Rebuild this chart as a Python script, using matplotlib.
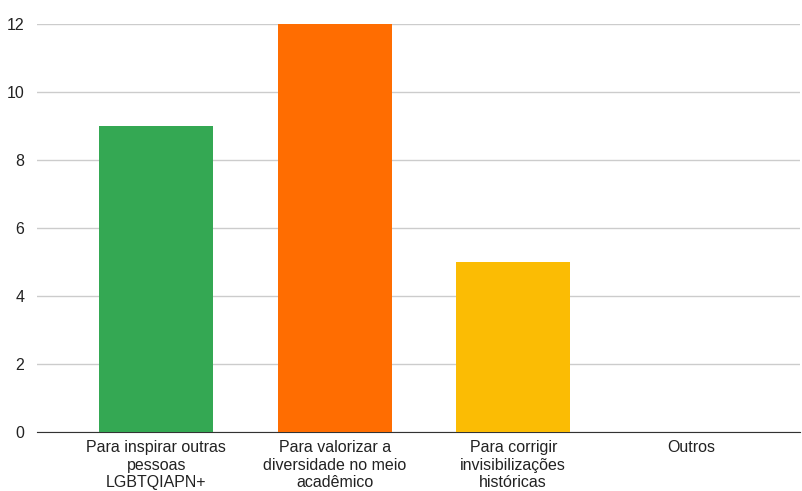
import matplotlib.pyplot as plt

categorias = [
    "Para inspirar outras\npessoas\nLGBTQIAPN+",
    "Para valorizar a\ndiversidade no meio\nacadêmico",
    "Para corrigir\ninvisibilizações\nhistóricas",
    "Outros",
]
valores = [9, 12, 5, 0]
cores = ["#34A853", "#FF6D01", "#FBBC04", "#4285F4"]

plt.rcParams["font.family"] = ["Liberation Sans", "DejaVu Sans"]

fig = plt.figure(figsize=(8.02, 4.91), dpi=100)
ax = fig.add_axes([0.046, 0.12, 0.952, 0.831])

x = range(len(categorias))
ax.bar(x, valores, width=0.64, color=cores, zorder=3)

ax.set_xlim(-0.67, 3.61)
ax.set_ylim(0, 12)
ax.set_yticks(range(0, 13, 2))
ax.set_xticks(list(x))
ax.set_xticklabels(categorias, fontsize=11.5, color="#222222", linespacing=1.2)

ax.grid(axis="y", color="#cccccc", linewidth=1, zorder=0)
for s in ["top", "right", "left"]:
    ax.spines[s].set_visible(False)
ax.spines["bottom"].set_color("#333333")
ax.tick_params(axis="both", length=0, labelsize=11.5, colors="#222222")
ax.tick_params(axis="y", pad=9)
ax.tick_params(axis="x", pad=6)

plt.savefig("out.png", dpi=100)
plt.close()
